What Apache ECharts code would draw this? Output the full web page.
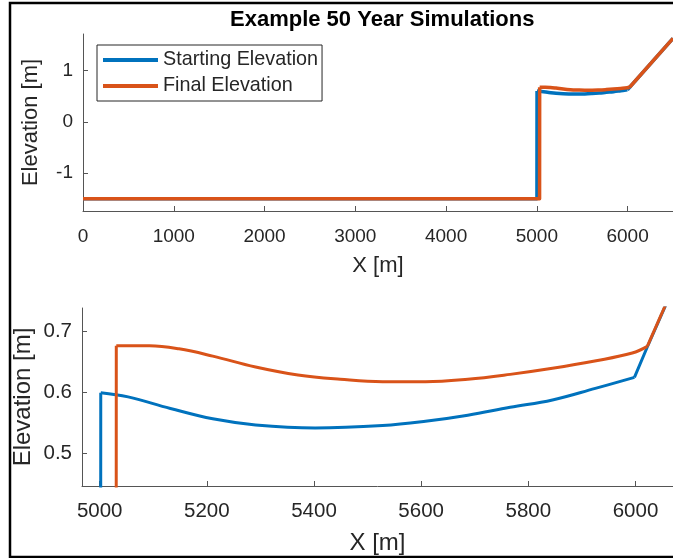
<!DOCTYPE html>
<html>
<head>
<meta charset="utf-8">
<script src="https://cdn.jsdelivr.net/npm/echarts@6/dist/echarts.min.js"></script>
<style>
  html, body { margin: 0; padding: 0; background: #fff; overflow: hidden; }
  #chart { width: 673px; height: 558px; }
</style>
</head>
<body>
<div id="chart"></div>
<script>
// profiles (x in m, elevation in m)
// each profile: flat base + step, curved crest, straight ramp
var startStepX = [0, 5001, 5002];
var startStepY = [-1.5, -1.5, 0.600];
var startCurveX = [5002, 5053, 5132, 5211, 5291, 5402, 5528, 5608, 5687, 5766, 5845, 5925, 5998];
var startCurveY = [0.600, 0.593, 0.574, 0.557, 0.547, 0.542, 0.546, 0.553, 0.563, 0.576, 0.588, 0.607, 0.625];
var startRampX = [5998, 6022, 6500];
var startRampY = [0.625, 0.675, 1.630];

var finalStepX = [0, 5030, 5031];
var finalStepY = [-1.5, -1.5, 0.677];
var finalCurveX = [5031, 5093, 5148, 5211, 5291, 5370, 5449, 5528, 5608, 5687, 5766, 5845, 5924, 5994, 6022];
var finalCurveY = [0.677, 0.677, 0.672, 0.660, 0.642, 0.629, 0.622, 0.618, 0.618, 0.622, 0.630, 0.640, 0.652, 0.665, 0.676];
var finalRampX = [6022, 6500];
var finalRampY = [0.676, 1.630];

var seriesNames = ['Starting Elevation', 'Final Elevation'];

// tick values
var topXTicks = [0, 1000, 2000, 3000, 4000, 5000, 6000];
var topYTicks = [-1, 0, 1];
var botXTicks = [5000, 5200, 5400, 5600, 5800, 6000];
var botYTicks = [0.5, 0.6, 0.7];

var BLUE = '#0072BD', ORANGE = '#D95319';
var TXT = '#262626', AX = '#555555';
var FONT = '"Liberation Sans", Arial, Helvetica, sans-serif';

function pairs(xs, ys) {
	var out = [];
	for (var i = 0; i < xs.length; i++) out.push([xs[i], ys[i]]);
	return out;
}

function plain(v) { return String(v); }

function xAxisCfg(idx, min, max, ticks, tickFont, nameFont, labelMargin, nameGap) {
	return {
		type: 'value', gridIndex: idx, min: min, max: max,
		name: 'X [m]', nameLocation: 'middle', nameGap: nameGap, nameMoveOverlap: false,
		nameTextStyle: { color: TXT, fontSize: nameFont, fontFamily: FONT },
		axisLine: { show: true, onZero: false, lineStyle: { color: AX, width: 1 } },
		axisTick: { show: true, inside: true, length: 5, customValues: ticks, lineStyle: { color: AX } },
		axisLabel: { customValues: ticks, formatter: plain, margin: labelMargin, color: TXT, fontSize: tickFont, fontFamily: FONT },
		splitLine: { show: false }
	};
}

function yAxisCfg(idx, min, max, ticks, tickFont, nameFont, nameGap) {
	return {
		type: 'value', gridIndex: idx, min: min, max: max,
		name: 'Elevation [m]', nameLocation: 'middle', nameRotate: 90, nameGap: nameGap, nameMoveOverlap: false,
		nameTextStyle: { color: TXT, fontSize: nameFont, fontFamily: FONT },
		axisLine: { show: true, onZero: false, lineStyle: { color: AX, width: 1 } },
		axisTick: { show: true, inside: true, length: 5, customValues: ticks, lineStyle: { color: AX } },
		axisLabel: { customValues: ticks, formatter: plain, margin: 10, color: TXT, fontSize: tickFont, fontFamily: FONT },
		splitLine: { show: false }
	};
}

function lineSeries(name, data, color, gi, width, smooth) {
	return {
		name: name, type: 'line', xAxisIndex: gi, yAxisIndex: gi,
		data: data, showSymbol: false, symbol: 'none', clip: true,
		smooth: smooth ? 0.4 : false,
		animation: false, color: color,
		lineStyle: { color: color, width: width, join: 'round' }
	};
}

// one profile = three pieces (step, curve, ramp) in one grid
function profile(name, color, gi, width, parts) {
	return [
		lineSeries(name, pairs(parts[0], parts[1]), color, gi, width, false),
		lineSeries(name, pairs(parts[2], parts[3]), color, gi, width, true),
		lineSeries(name, pairs(parts[4], parts[5]), color, gi, width, false)
	];
}

var startParts = [startStepX, startStepY, startCurveX, startCurveY, startRampX, startRampY];
var finalParts = [finalStepX, finalStepY, finalCurveX, finalCurveY, finalRampX, finalRampY];

var series = [].concat(
	profile(seriesNames[0], BLUE, 0, 3.5, startParts),
	profile(seriesNames[1], ORANGE, 0, 3.5, finalParts),
	profile(seriesNames[0], BLUE, 1, 3, startParts),
	profile(seriesNames[1], ORANGE, 1, 3, finalParts)
);

var chart = echarts.init(document.getElementById('chart'), null, { renderer: 'canvas' });
chart.setOption({
	backgroundColor: '#ffffff',
	animation: false,
	title: {
		text: 'Example 50 Year Simulations',
		left: 225, top: 4,
		textStyle: { color: '#000', fontSize: 22, fontWeight: 'bold', fontFamily: FONT }
	},
	legend: {
		orient: 'vertical', left: 97, top: 45,
		padding: [5, 4, 5, 6], itemGap: 6,
		itemWidth: 55, itemHeight: 4,
		borderColor: TXT, borderWidth: 1, backgroundColor: '#fff',
		textStyle: { color: TXT, fontSize: 19.8, fontFamily: FONT },
		data: [
			{ name: seriesNames[0], icon: 'rect', itemStyle: { color: BLUE } },
			{ name: seriesNames[1], icon: 'rect', itemStyle: { color: ORANGE } }
		]
	},
	grid: [
		{ left: 83, top: 34, width: 598, height: 177 },
		{ left: 82, top: 308, width: 599, height: 178 }
	],
	xAxis: [
		xAxisCfg(0, 0, 6500, topXTicks, 19, 22, 16, 44),
		xAxisCfg(1, 4967, 6070, botXTicks, 20.5, 24, 15, 45)
	],
	yAxis: [
		yAxisCfg(0, -1.74, 1.715, topYTicks, 19, 22, 41),
		yAxisCfg(1, 0.4467, 0.739, botYTicks, 20.5, 24, 47)
	],
	graphic: [{
		type: 'polyline', z: 100, silent: true,
		shape: { points: [[720, 3], [10, 3], [10, 557], [720, 557]] },
		style: { fill: null, stroke: '#000', lineWidth: 2.5 }
	}],
	series: series
});
</script>
</body>
</html>
